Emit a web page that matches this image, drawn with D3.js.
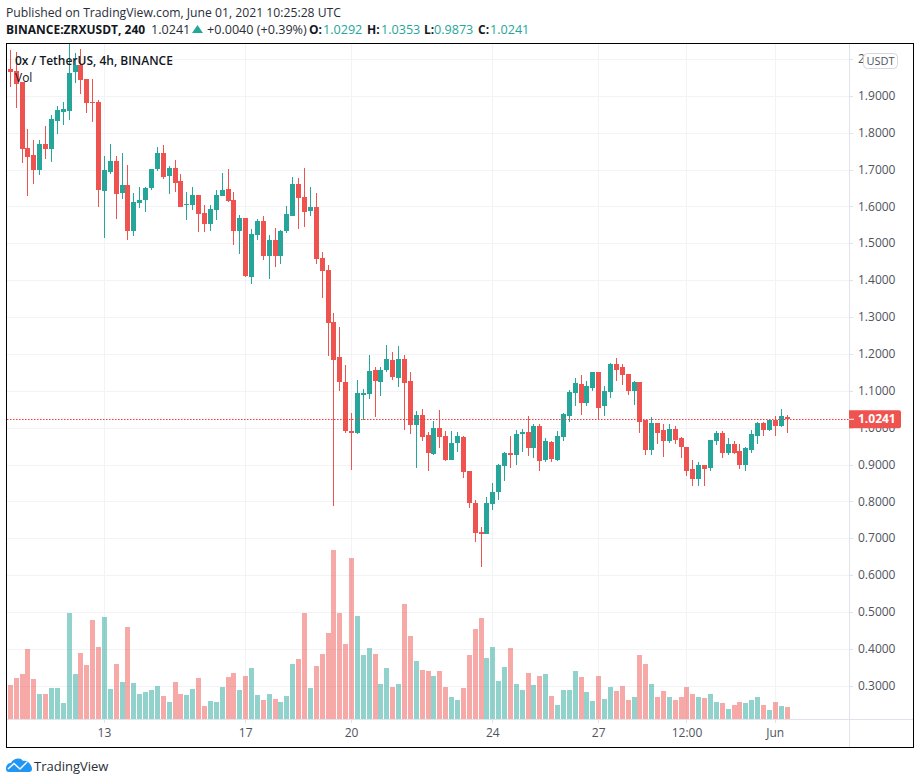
<!DOCTYPE html>
<html lang="en">
  <head>
    <meta charset="UTF-8" />
    <title>ZRXUSDT 4h</title>
    <script src="https://d3js.org/d3.v7.min.js"></script>
    <style>
      html,
      body {
        margin: 0;
        background: #fff;
      }
      svg {
        display: block;
      }
      text {
        font-family: "Open Sans", sans-serif;
      }
      .grid {
        stroke: #f1f3f6;
        stroke-width: 1;
        shape-rendering: crispEdges;
      }
      .axis-line {
        stroke: #e0e3eb;
        stroke-width: 1;
        shape-rendering: crispEdges;
      }
      .tick-label {
        font-size: 12px;
        fill: #50535e;
      }
    </style>
  </head>
  <body>
    <svg id="chart" width="920" height="784"></svg>

    <script>
      // 4h candles, May 10 08:00 to Jun 1 08:00
      const opens = [
        1.975, 1.969, 1.938, 1.759, 1.74, 1.699, 1.77, 1.756, 1.832, 1.857, 1.859, 1.965, 1.984, 1.946, 1.884, 1.884,
        1.642, 1.694, 1.724, 1.637, 1.659, 1.534, 1.61, 1.618, 1.65, 1.702, 1.745, 1.683, 1.705, 1.669, 1.605, 1.604,
        1.631, 1.583, 1.553, 1.591, 1.629, 1.648, 1.618, 1.534, 1.569, 1.409, 1.523, 1.561, 1.466, 1.509, 1.466, 1.534,
        1.576, 1.663, 1.628, 1.59, 1.601, 1.462, 1.43, 1.289, 1.192, 1.125, 0.992, 0.987, 1.09, 1.092, 1.157, 1.125,
        1.157, 1.185, 1.136, 1.187, 1.128, 1.008, 1.036, 0.981, 0.93, 1.0, 0.979, 0.914, 0.96, 0.976, 0.884, 0.797,
        0.718, 0.713, 0.794, 0.827, 0.897, 0.933, 0.927, 0.984, 0.989, 0.946, 1.006, 0.914, 0.962, 0.914, 0.976, 1.033,
        1.095, 1.121, 1.067, 1.11, 1.151, 1.059, 1.097, 1.173, 1.165, 1.146, 1.102, 1.124, 1.021, 0.942, 1.013, 0.994,
        0.964, 0.999, 0.972, 0.948, 0.888, 0.861, 0.901, 0.893, 0.964, 0.988, 0.934, 0.958, 0.937, 0.899, 0.942, 0.98,
        1.015, 0.996, 1.021, 1.007, 1.0292,
      ];
      const highs = [
        2.025, 2.02, 1.938, 1.81, 1.781, 1.781, 1.82, 1.848, 1.873, 1.884, 2.041, 2.016, 2.029, 1.946, 1.946, 1.889,
        1.737, 1.77, 1.737, 1.745, 1.713, 1.637, 1.654, 1.654, 1.702, 1.762, 1.767, 1.71, 1.726, 1.69, 1.64, 1.654,
        1.631, 1.604, 1.604, 1.645, 1.691, 1.702, 1.64, 1.577, 1.569, 1.539, 1.566, 1.575, 1.523, 1.542, 1.537, 1.602,
        1.682, 1.679, 1.706, 1.655, 1.639, 1.479, 1.443, 1.313, 1.273, 1.171, 1.041, 1.13, 1.106, 1.198, 1.166, 1.166,
        1.225, 1.206, 1.223, 1.198, 1.152, 1.046, 1.052, 0.989, 1.019, 1.049, 0.992, 0.992, 0.989, 0.979, 0.884, 0.805,
        0.732, 0.813, 0.851, 0.903, 0.935, 0.979, 0.995, 0.998, 1.033, 1.011, 1.011, 0.973, 0.965, 0.992, 1.041, 1.103,
        1.136, 1.143, 1.129, 1.151, 1.151, 1.113, 1.178, 1.189, 1.173, 1.146, 1.127, 1.124, 1.021, 1.029, 1.015, 1.01,
        1.01, 1.007, 0.977, 0.948, 0.915, 0.909, 0.901, 0.969, 0.991, 0.991, 0.972, 0.964, 0.958, 0.948, 0.994, 1.018,
        1.018, 1.023, 1.032, 1.053, 1.0353,
      ];
      const lows = [
        1.925, 1.869, 1.719, 1.63, 1.661, 1.686, 1.729, 1.721, 1.797, 1.821, 1.835, 1.935, 1.905, 1.855, 1.829, 1.6,
        1.515, 1.69, 1.566, 1.622, 1.509, 1.52, 1.596, 1.585, 1.645, 1.697, 1.675, 1.634, 1.64, 1.601, 1.564, 1.591,
        1.531, 1.531, 1.536, 1.564, 1.629, 1.612, 1.496, 1.471, 1.409, 1.39, 1.509, 1.455, 1.404, 1.436, 1.444, 1.528,
        1.574, 1.541, 1.546, 1.576, 1.446, 1.354, 1.197, 0.789, 1.102, 0.987, 0.886, 0.984, 1.022, 1.079, 1.03, 1.087,
        1.152, 1.13, 1.111, 0.995, 0.984, 0.892, 0.965, 0.884, 0.927, 0.946, 0.911, 0.914, 0.935, 0.865, 0.784, 0.691,
        0.624, 0.713, 0.778, 0.805, 0.857, 0.892, 0.9, 0.935, 0.924, 0.919, 0.884, 0.908, 0.908, 0.911, 0.965, 1.017,
        1.06, 1.037, 1.059, 1.102, 1.021, 1.034, 1.081, 1.127, 1.116, 1.091, 1.062, 0.986, 0.928, 0.926, 0.956, 0.923,
        0.961, 0.958, 0.92, 0.871, 0.844, 0.842, 0.842, 0.885, 0.953, 0.918, 0.926, 0.931, 0.89, 0.885, 0.934, 0.956,
        0.98, 0.991, 0.98, 1.002, 0.9873,
      ];
      const closes = [
        1.966, 1.933, 1.757, 1.735, 1.699, 1.77, 1.756, 1.838, 1.862, 1.865, 1.962, 1.984, 1.943, 1.881, 1.881, 1.645,
        1.699, 1.724, 1.634, 1.659, 1.534, 1.612, 1.618, 1.65, 1.702, 1.745, 1.68, 1.705, 1.664, 1.601, 1.607, 1.631,
        1.58, 1.555, 1.593, 1.631, 1.645, 1.615, 1.534, 1.569, 1.412, 1.526, 1.561, 1.466, 1.509, 1.466, 1.534, 1.58,
        1.663, 1.625, 1.587, 1.601, 1.46, 1.427, 1.284, 1.186, 1.124, 0.992, 0.988, 1.095, 1.095, 1.155, 1.128, 1.157,
        1.187, 1.139, 1.187, 1.122, 1.008, 1.036, 0.976, 0.933, 1.0, 0.976, 0.914, 0.96, 0.979, 0.881, 0.797, 0.716,
        0.713, 0.797, 0.827, 0.9, 0.933, 0.927, 0.984, 0.989, 0.946, 1.006, 0.911, 0.965, 0.916, 0.979, 1.038, 1.098,
        1.122, 1.067, 1.113, 1.151, 1.056, 1.1, 1.173, 1.159, 1.143, 1.102, 1.124, 1.018, 0.942, 1.013, 0.988, 0.964,
        0.999, 0.969, 0.948, 0.885, 0.863, 0.901, 0.89, 0.969, 0.988, 0.934, 0.958, 0.934, 0.899, 0.945, 0.983, 1.015,
        0.996, 1.021, 1.007, 1.032, 1.0241,
      ];
      const volumes = [
        103, 124, 136, 211, 121, 76, 76, 94, 94, 49, 319, 136, 199, 163, 298, 217,
        307, 91, 166, 112, 277, 109, 76, 82, 88, 100, 70, 52, 112, 76, 73, 91,
        124, 40, 55, 52, 97, 127, 139, 88, 130, 154, 73, 58, 76, 61, 52, 70,
        166, 181, 319, 94, 160, 196, 259, 508, 319, 226, 484, 310, 193, 214, 196, 106,
        154, 97, 106, 346, 250, 175, 148, 145, 130, 145, 97, 67, 58, 94, 193, 271,
        304, 184, 217, 115, 157, 214, 106, 88, 139, 103, 130, 136, 70, 43, 88, 88,
        145, 127, 82, 54, 129, 60, 96, 84, 99, 57, 66, 192, 165, 105, 66, 84,
        66, 57, 66, 96, 75, 66, 63, 75, 51, 48, 30, 42, 51, 48, 57, 66,
        42, 27, 51, 39, 36,
      ];
      const priceTicks = d3.range(3, 21).map((d) => d / 10);
      const timeTickIndex = [16, 40, 58, 82, 100, 115, 130];
      const timeTickLabels = ["13", "17", "20", "24", "27", "12:00", "Jun"];
      const lastPrice = 1.0241;
      const header = [
        ["BINANCE:ZRXUSDT, 240", 6, "#131722", 700],
        ["1.0241", 151, "#2a2e39", 400],
        ["+0.0040 (+0.39%)", 207, "#2a2e39", 400],
        ["O:", 309, "#131722", 700],
        ["1.0292", 323, "#26a69a", 400],
        ["H:", 367, "#131722", 700],
        ["1.0353", 381, "#26a69a", 400],
        ["L:", 424, "#131722", 700],
        ["0.9873", 434, "#26a69a", 400],
        ["C:", 478, "#131722", 700],
        ["1.0241", 490, "#26a69a", 400],
      ];

      const UP = "#26a69a";
      const DOWN = "#ef5350";
      const paneLeft = 7;
      const paneRight = 849;
      const paneTop = 44;
      const paneBottom = 719;

      const svg = d3.select("#chart");
      const x = d3.scaleLinear().domain([0, 132]).range([10.3, 787]);
      const y = d3.scaleLinear().domain([0.3, 2]).range([686.3, 59.4]);
      const yVol = d3.scaleLinear().domain([0, 508]).range([719, 549.7]);
      const barLeft = (i) => Math.round(x(i) - 2.5);
      const indexes = d3.range(opens.length);
      const color = (i) => (closes[i] >= opens[i] ? UP : DOWN);

      svg
        .append("clipPath")
        .attr("id", "pane")
        .append("rect")
        .attr("x", paneLeft)
        .attr("y", paneTop)
        .attr("width", paneRight - paneLeft)
        .attr("height", paneBottom - paneTop);

      // グリッド
      svg
        .selectAll(".h-grid")
        .data(priceTicks)
        .join("line")
        .attr("class", "grid")
        .attr("x1", paneLeft)
        .attr("x2", paneRight)
        .attr("y1", (d) => y(d))
        .attr("y2", (d) => y(d));

      svg
        .selectAll(".v-grid")
        .data(timeTickIndex)
        .join("line")
        .attr("class", "grid")
        .attr("x1", (d) => x(d))
        .attr("x2", (d) => x(d))
        .attr("y1", paneTop)
        .attr("y2", paneBottom);

      const pane = svg.append("g").attr("clip-path", "url(#pane)");

      // volume bars
      pane
        .append("g")
        .attr("shape-rendering", "crispEdges")
        .selectAll("rect")
        .data(indexes)
        .join("rect")
        .attr("x", barLeft)
        .attr("width", 5)
        .attr("y", (i) => yVol(volumes[i]))
        .attr("height", (i) => yVol(0) - yVol(volumes[i]))
        .attr("fill", color)
        .attr("opacity", 0.5);

      // candles
      const candle = pane
        .append("g")
        .attr("shape-rendering", "crispEdges")
        .selectAll("g")
        .data(indexes)
        .join("g")
        .attr("fill", color);

      candle
        .append("rect")
        .attr("x", (i) => barLeft(i) + 2)
        .attr("width", 1)
        .attr("y", (i) => y(highs[i]))
        .attr("height", (i) => y(lows[i]) - y(highs[i]));

      candle
        .append("rect")
        .attr("x", barLeft)
        .attr("width", 5)
        .attr("y", (i) => y(Math.max(opens[i], closes[i])))
        .attr("height", (i) => Math.max(1, Math.abs(y(opens[i]) - y(closes[i]))));

      // last price line
      svg
        .append("line")
        .attr("x1", paneLeft)
        .attr("x2", paneRight)
        .attr("y1", Math.floor(y(lastPrice)) + 0.5)
        .attr("y2", Math.floor(y(lastPrice)) + 0.5)
        .attr("stroke", "#f23b38")
        .attr("stroke-width", 1)
        .attr("stroke-dasharray", "1.5 1.5");

      // axis lines
      svg
        .append("line")
        .attr("class", "axis-line")
        .attr("x1", paneLeft)
        .attr("x2", 913)
        .attr("y1", paneBottom + 0.5)
        .attr("y2", paneBottom + 0.5);
      svg
        .append("line")
        .attr("class", "axis-line")
        .attr("x1", paneRight + 0.5)
        .attr("x2", paneRight + 0.5)
        .attr("y1", paneTop)
        .attr("y2", 747);

      // price axis
      const priceAxis = svg
        .selectAll(".price-tick")
        .data(priceTicks)
        .join("g")
        .attr("transform", (d) => `translate(${paneRight},${y(d)})`);
      priceAxis
        .append("line")
        .attr("class", "axis-line")
        .attr("x2", 4);
      priceAxis
        .append("text")
        .attr("class", "tick-label")
        .attr("x", 9)
        .attr("y", -0.5)
        .attr("dy", "0.35em")
        .text((d) => d.toFixed(4));

      // time axis
      const timeAxis = svg
        .selectAll(".time-tick")
        .data(timeTickIndex)
        .join("g")
        .attr("transform", (d) => `translate(${x(d)},${paneBottom})`);
      timeAxis
        .append("line")
        .attr("class", "axis-line")
        .attr("y2", 4);
      timeAxis
        .append("text")
        .attr("class", "tick-label")
        .attr("y", 18)
        .attr("text-anchor", "middle")
        .text((d, i) => timeTickLabels[i]);

      // last price label
      const lastY = y(lastPrice);
      svg
        .append("path")
        .attr("d", `M849,${lastY - 9}H899a2,2 0 0 1 2,2V${lastY + 7}a2,2 0 0 1 -2,2H849Z`)
        .attr("fill", DOWN);
      svg
        .append("line")
        .attr("x1", 849)
        .attr("x2", 854)
        .attr("y1", lastY)
        .attr("y2", lastY)
        .attr("stroke", "#fff");
      svg
        .append("text")
        .attr("x", 858)
        .attr("y", lastY)
        .attr("dy", "0.35em")
        .attr("fill", "#fff")
        .attr("font-size", 12)
        .attr("font-weight", 700)
        .text(lastPrice.toFixed(4));

      // USDT badge
      svg
        .append("rect")
        .attr("x", 863.5)
        .attr("y", 53.5)
        .attr("width", 34)
        .attr("height", 15)
        .attr("rx", 4)
        .attr("fill", "#fff")
        .attr("stroke", "#d6d8e0");
      svg
        .append("text")
        .attr("x", 880.5)
        .attr("y", 61)
        .attr("dy", "0.35em")
        .attr("text-anchor", "middle")
        .attr("fill", "#50535e")
        .attr("font-size", 11)
        .text("USDT");

      // pane legend
      svg
        .append("text")
        .attr("x", 15)
        .attr("y", 65)
        .attr("fill", "#131722")
        .attr("font-size", 12)
        .attr("font-weight", 600)
        .text("0x / TetherUS, 4h, BINANCE");
      svg
        .append("text")
        .attr("x", 15)
        .attr("y", 82)
        .attr("fill", "#131722")
        .attr("font-size", 12)
        .text("Vol");

      // header
      svg
        .append("text")
        .attr("x", 6)
        .attr("y", 17)
        .attr("fill", "#2a2e39")
        .attr("font-size", 12.2)
        .text("Published on TradingView.com, June 01, 2021 10:25:28 UTC");
      svg
        .selectAll(".header-item")
        .data(header)
        .join("text")
        .attr("x", (d) => d[1])
        .attr("y", 34)
        .attr("fill", (d) => d[2])
        .attr("font-size", (d) => (d[3] === 700 ? 12 : 12.6))
        .attr("font-weight", (d) => d[3])
        .text((d) => d[0]);
      svg
        .append("path")
        .attr("d", "M192,33L197.5,25L203,33Z")
        .attr("fill", UP);

      // TradingView logo
      svg
        .append("path")
        .attr(
          "d",
          "M6,769C6,764 9,763 11,763C13,758 21,757 23,761C28,760 32,765 32,769C32,771 31,772 29,772H9C7,772 6,771 6,769Z"
        )
        .attr("fill", "#2196f3");
      svg
        .append("path")
        .attr("d", "M8,769L14,763.5L20,769L27,762")
        .attr("fill", "none")
        .attr("stroke", "#fff")
        .attr("stroke-width", 1.4);
      svg
        .append("text")
        .attr("x", 34)
        .attr("y", 771)
        .attr("fill", "#2a2e39")
        .attr("font-size", 13)
        .text("TradingView");

      // border
      svg
        .append("rect")
        .attr("x", 6.5)
        .attr("y", 43.5)
        .attr("width", 907)
        .attr("height", 704)
        .attr("fill", "none")
        .attr("stroke", "#000")
        .attr("shape-rendering", "crispEdges");
    </script>
  </body>
</html>
